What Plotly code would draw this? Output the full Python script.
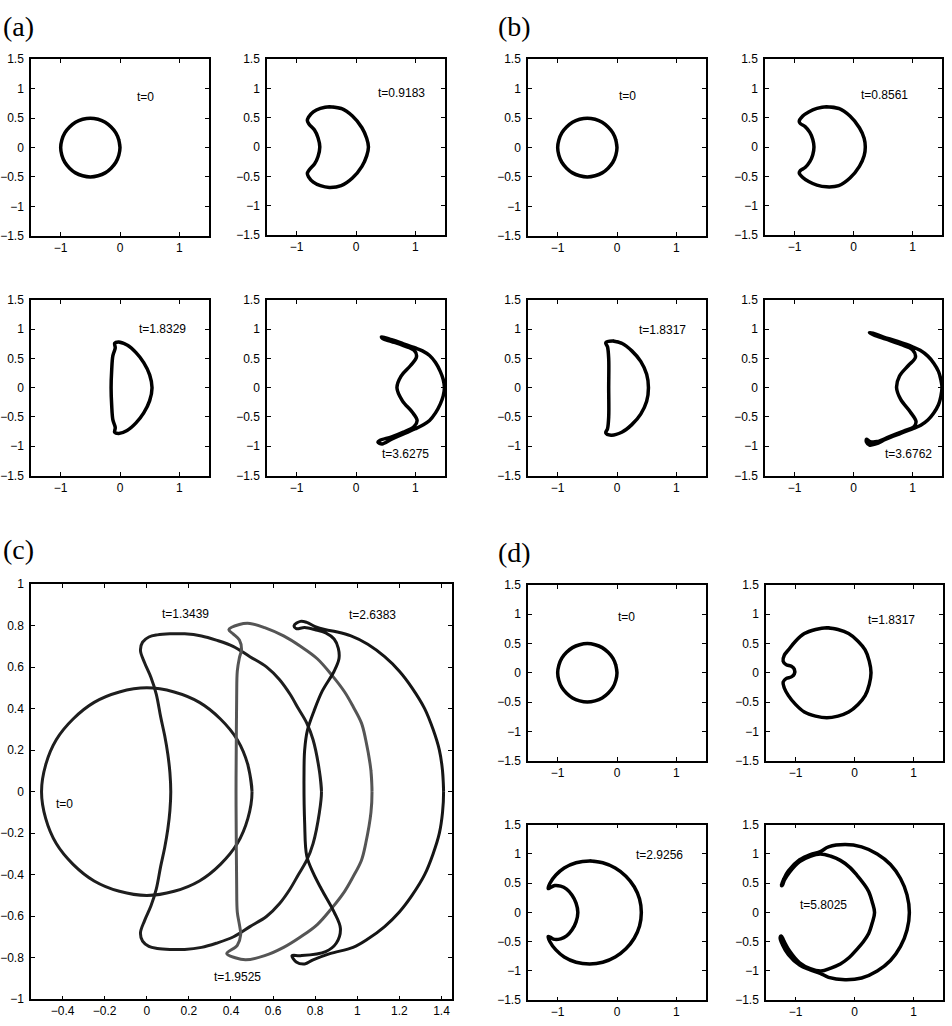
import plotly.graph_objects as go

W, H = 952, 1026

# ---- shapes (data units) ----
# t=0 circle used in (a), (b), (d)
circ_x = [0, -0.02, -0.07, -0.15, -0.25, -0.37, -0.5, -0.63, -0.75, -0.85, -0.93, -0.98, -1, -0.98, -0.93, -0.85, -0.75,
          -0.63, -0.5, -0.37, -0.25, -0.15, -0.07, -0.02, 0, -0.02]
circ_y = [0, 0.13, 0.25, 0.35, 0.43, 0.48, 0.5, 0.48, 0.43, 0.35, 0.25, 0.13, 0, -0.13, -0.25, -0.35, -0.43,
          -0.48, -0.5, -0.48, -0.43, -0.35, -0.25, -0.13, 0, 0.13]

a2_x = [-0.45, -0.25, -0.06, 0.1, 0.18, 0.21, 0.18, 0.1, -0.06, -0.25, -0.45, -0.6, -0.72, -0.8, -0.82, -0.79, -0.7, -0.64, -0.61,
        -0.64, -0.7, -0.79, -0.82, -0.8, -0.72, -0.6, -0.45, -0.25]
a2_y = [0.69, 0.66, 0.53, 0.33, 0.15, 0, -0.15, -0.33, -0.53, -0.66, -0.69, -0.66, -0.6, -0.51, -0.45, -0.39, -0.29, -0.16, 0,
        0.16, 0.29, 0.39, 0.45, 0.51, 0.6, 0.66, 0.69, 0.66]

a3_x = [-0.02, 0.12, 0.27, 0.4, 0.5, 0.54, 0.5, 0.4, 0.27, 0.12, -0.02, -0.09, -0.08, -0.12, -0.14, -0.15, -0.14, -0.12, -0.08, -0.09,
        -0.02, 0.12]
a3_y = [0.78, 0.73, 0.6, 0.43, 0.22, 0, -0.22, -0.43, -0.6, -0.73, -0.78, -0.76, -0.68, -0.55, -0.3, 0, 0.3, 0.55, 0.68, 0.76,
        0.78, 0.73]

a4_x = [0.43, 0.6, 0.8, 1.0, 1.12, 1.24, 1.34, 1.42, 1.47, 1.49, 1.47, 1.42, 1.34, 1.24, 1.12, 1.0, 0.8, 0.6, 0.44, 0.37, 0.4,
        0.6, 0.8, 0.98, 1.03, 0.95, 0.78, 0.69, 0.76, 0.92, 1.02, 0.98, 0.8, 0.6, 0.45, 0.43]
a4_y = [0.87, 0.82, 0.75, 0.68, 0.63, 0.55, 0.43, 0.28, 0.14, 0, -0.14, -0.28, -0.43, -0.56, -0.64, -0.7, -0.79, -0.88, -0.96,
        -0.93, -0.9, -0.84, -0.76, -0.66, -0.56, -0.42, -0.22, 0, 0.2, 0.38, 0.53, 0.64, 0.72, 0.79, 0.84, 0.87]

b2_x = [-0.46, -0.25, -0.06, 0.1, 0.18, 0.2, 0.18, 0.1, -0.06, -0.25, -0.46, -0.62, -0.76, -0.86, -0.92, -0.9, -0.82, -0.74,
        -0.69, -0.67, -0.69, -0.74, -0.82, -0.9, -0.92, -0.86, -0.76, -0.62, -0.46, -0.25]
b2_y = [0.69, 0.66, 0.53, 0.33, 0.15, 0, -0.15, -0.33, -0.53, -0.66, -0.68, -0.65, -0.59, -0.52, -0.44, -0.4, -0.35, -0.25,
        -0.13, 0, 0.13, 0.25, 0.35, 0.4, 0.44, 0.53, 0.6, 0.66, 0.69, 0.66]

b3_x = [-0.07, 0.08, 0.25, 0.4, 0.5, 0.53, 0.5, 0.4, 0.25, 0.08, -0.1, -0.19, -0.16, -0.14, -0.14, -0.14, -0.16, -0.19, -0.07, 0.08]
b3_y = [0.8, 0.76, 0.63, 0.45, 0.23, 0, -0.23, -0.45, -0.63, -0.76, -0.81, -0.77, -0.7, -0.5, 0, 0.5, 0.7, 0.77, 0.8, 0.76]

b4_x = [0.27, 0.33, 0.5, 0.75, 1.0, 1.13, 1.26, 1.36, 1.44, 1.48, 1.5, 1.48, 1.44, 1.36, 1.26, 1.14, 1.03, 0.8, 0.55, 0.38,
        0.27, 0.22, 0.22, 0.28, 0.4, 0.6, 0.85, 1.02, 1.06, 0.96, 0.8, 0.73, 0.78, 0.93, 1.05, 1.0, 0.8, 0.55, 0.35, 0.27]
b4_y = [0.94, 0.93, 0.87, 0.79, 0.7, 0.64, 0.54, 0.42, 0.28, 0.14, 0, -0.15, -0.29, -0.43, -0.55, -0.64, -0.69, -0.78, -0.88,
        -0.96, -0.98, -0.93, -0.88, -0.92, -0.92, -0.84, -0.74, -0.67, -0.58, -0.41, -0.2, 0, 0.2, 0.38, 0.52, 0.65, 0.74, 0.83,
        0.9, 0.94]

d2_x = [-0.47, -0.28, -0.1, 0.06, 0.18, 0.25, 0.28, 0.25, 0.18, 0.06, -0.1, -0.28, -0.47, -0.66, -0.85, -1.0, -1.12, -1.19,
        -1.21, -1.16, -1.07, -1.02, -1.02, -1.07, -1.16, -1.21, -1.19, -1.12, -1.0, -0.85, -0.66, -0.47, -0.28]
d2_y = [0.77, 0.74, 0.67, 0.54, 0.39, 0.2, 0, -0.2, -0.39, -0.54, -0.67, -0.74, -0.77, -0.74, -0.67, -0.54, -0.39, -0.26,
        -0.16, -0.1, -0.07, -0.02, 0.06, 0.11, 0.14, 0.2, 0.3, 0.39, 0.54, 0.67, 0.74, 0.77, 0.74]

d3_x = [-0.46, -0.24, -0.03, 0.15, 0.29, 0.38, 0.41, 0.38, 0.29, 0.15, -0.03, -0.24, -0.46, -0.69, -0.89, -1.03, -1.13, -1.16,
        -1.13, -1.05, -0.95, -0.85, -0.76, -0.69, -0.66, -0.69, -0.76, -0.85, -0.95, -1.05, -1.13, -1.16, -1.13, -1.03, -0.89,
        -0.69, -0.46, -0.24]
d3_y = [0.88, 0.85, 0.76, 0.62, 0.44, 0.23, 0, -0.23, -0.44, -0.62, -0.76, -0.85, -0.88, -0.85, -0.76, -0.64, -0.5, -0.41,
        -0.42, -0.46, -0.45, -0.4, -0.3, -0.16, 0, 0.16, 0.3, 0.4, 0.45, 0.46, 0.42, 0.41, 0.5, 0.64, 0.76, 0.85, 0.88, 0.85]

d4_x = [-1.24, -1.2, -1.12, -0.93, -0.75, -0.58, -0.44, -0.16, 0.12, 0.385, 0.61, 0.78, 0.89, 0.93, 0.89, 0.78, 0.61, 0.385,
        0.12, -0.16, -0.44, -0.58, -0.75, -0.93, -1.12, -1.22, -1.26, -1.24, -1.2, -1.1, -0.93, -0.75, -0.57, -0.4, -0.24, -0.09,
        0.04, 0.15, 0.24, 0.3, 0.34, 0.3, 0.24, 0.15, 0.04, -0.09, -0.24, -0.4, -0.58, -0.75, -0.93, -1.1, -1.19, -1.22, -1.24, -1.2]
d4_y = [0.46, 0.57, 0.71, 0.9, 0.99, 1.04, 1.12, 1.16, 1.12, 1.0, 0.82, 0.58, 0.3, 0, -0.3, -0.58, -0.82, -1.0,
        -1.12, -1.15, -1.11, -1.04, -0.98, -0.9, -0.72, -0.55, -0.43, -0.4, -0.48, -0.66, -0.86, -0.96, -1.0, -0.95, -0.88, -0.77,
        -0.63, -0.5, -0.36, -0.18, 0, 0.18, 0.36, 0.5, 0.64, 0.78, 0.89, 0.96, 1.0, 0.96, 0.87, 0.69, 0.55, 0.47, 0.46, 0.57]

# panel (c)
c0_x = [0.5, 0.48, 0.43, 0.35, 0.25, 0.13, 0, -0.13, -0.25, -0.35, -0.43, -0.48, -0.5, -0.48, -0.43, -0.35, -0.25, -0.13, 0,
        0.13, 0.25, 0.35, 0.43, 0.48, 0.5, 0.48]
c0_y = [0, 0.13, 0.25, 0.35, 0.43, 0.48, 0.5, 0.48, 0.43, 0.35, 0.25, 0.13, 0, -0.13, -0.25, -0.35, -0.43, -0.48, -0.5,
        -0.48, -0.43, -0.35, -0.25, -0.13, 0, 0.13]

c1_x = [0.83, 0.82, 0.79, 0.76, 0.72, 0.68, 0.63, 0.57, 0.49, 0.41, 0.33, 0.26, 0.18, 0.11, 0.05, 0.01, -0.02, -0.03, -0.01,
        0.02, 0.045, 0.066, 0.085, 0.1, 0.11, 0.114, 0.11, 0.1, 0.085, 0.066, 0.045, 0.02, -0.01, -0.03, -0.02, 0.01, 0.05, 0.11,
        0.18, 0.26, 0.33, 0.41, 0.49, 0.57, 0.63, 0.68, 0.72, 0.76, 0.79, 0.82, 0.83, 0.82]
c1_y = [0, 0.1, 0.25, 0.33, 0.4, 0.47, 0.54, 0.6, 0.65, 0.7, 0.73, 0.75, 0.76, 0.76, 0.755, 0.745, 0.72, 0.68, 0.62,
        0.55, 0.47, 0.36, 0.27, 0.18, 0.09, 0, -0.09, -0.18, -0.27, -0.36, -0.47, -0.55, -0.62, -0.68, -0.72, -0.745, -0.755, -0.76,
        -0.76, -0.75, -0.73, -0.7, -0.65, -0.6, -0.54, -0.47, -0.4, -0.33, -0.25, -0.1, 0, 0.1]

c2_x = [1.07, 1.065, 1.04, 1.02, 0.98, 0.94, 0.88, 0.81, 0.73, 0.65, 0.56, 0.49, 0.44, 0.39, 0.41, 0.44, 0.45, 0.44, 0.43,
        0.427, 0.425, 0.424, 0.425, 0.427, 0.43, 0.44, 0.446, 0.43, 0.38, 0.42, 0.47, 0.56, 0.65, 0.73, 0.81, 0.88, 0.94, 0.98,
        1.02, 1.04, 1.065, 1.07, 1.065]
c2_y = [0, 0.1, 0.25, 0.33, 0.41, 0.48, 0.56, 0.64, 0.7, 0.75, 0.79, 0.81, 0.805, 0.78, 0.76, 0.73, 0.685, 0.645, 0.58,
        0.45, 0.2, 0, -0.2, -0.45, -0.58, -0.64, -0.69, -0.74, -0.78, -0.8, -0.81, -0.79, -0.75, -0.7, -0.64, -0.56, -0.48, -0.41,
        -0.33, -0.25, -0.1, 0, 0.1]

c3_x = [1.41, 1.405, 1.39, 1.36, 1.32, 1.26, 1.2, 1.13, 1.05, 0.97, 0.9, 0.85, 0.8, 0.76, 0.73, 0.7, 0.71, 0.75, 0.8, 0.85,
        0.89, 0.91, 0.913, 0.89, 0.834, 0.795, 0.763, 0.75, 0.747, 0.75, 0.76, 0.79, 0.83, 0.89, 0.92, 0.9, 0.85, 0.73, 0.69, 0.71,
        0.75, 0.79, 0.87, 0.98, 1.05, 1.13, 1.2, 1.26, 1.32, 1.36, 1.39, 1.405, 1.41, 1.405]
c3_y = [0, 0.1, 0.2, 0.3, 0.4, 0.5, 0.58, 0.65, 0.71, 0.75, 0.77, 0.78, 0.795, 0.815, 0.82, 0.8, 0.785, 0.79, 0.78, 0.765,
        0.735, 0.69, 0.64, 0.58, 0.485, 0.39, 0.295, 0.2, 0.09, -0.15, -0.31, -0.39, -0.47, -0.58, -0.66, -0.73, -0.77, -0.79, -0.79,
        -0.82, -0.83, -0.81, -0.78, -0.75, -0.71, -0.65, -0.58, -0.5, -0.4, -0.3, -0.2, -0.1, 0, 0.1]

sq_ticks_x = [-1, 0, 1]
sq_ticks_y = [-1.5, -1, -0.5, 0, 0.5, 1, 1.5]
c_ticks_x = [-0.4, -0.2, 0, 0.2, 0.4, 0.6, 0.8, 1, 1.2, 1.4]
c_ticks_y = [-1, -0.8, -0.6, -0.4, -0.2, 0, 0.2, 0.4, 0.6, 0.8, 1]

# (x, y, label, label x, label y, box px l,t,r,b)
panels = [
    (circ_x, circ_y, "t=0", 0.43, 0.86, (31, 53, 209, 232)),
    (a2_x, a2_y, "t=0.9183", 0.76, 0.92, (267, 53, 445, 231)),
    (a3_x, a3_y, "t=1.8329", 0.71, 1.0, (31, 297, 209, 475)),
    (a4_x, a4_y, "t=3.6275", 0.84, -1.14, (267, 297, 445, 475)),
    (circ_x, circ_y, "t=0", 0.18, 0.87, (528, 53, 706, 232)),
    (b2_x, b2_y, "t=0.8561", 0.53, 0.89, (765, 53, 942, 231)),
    (b3_x, b3_y, "t=1.8317", 0.76, 0.99, (528, 297, 706, 475)),
    (b4_x, b4_y, "t=3.6762", 0.93, -1.14, (765, 297, 942, 475)),
    (circ_x, circ_y, "t=0", 0.16, 0.95, (528, 586, 706, 764)),
    (d2_x, d2_y, "t=1.8317", 0.63, 0.9, (766, 586, 943, 764)),
    (d3_x, d3_y, "t=2.9256", 0.71, 0.99, (528, 829, 706, 1007)),
    (d4_x, d4_y, "t=5.8025", -0.53, 0.13, (766, 829, 943, 1007)),
]

fig = go.Figure()
axis_common = dict(showline=True, mirror="ticks", linecolor="black", linewidth=1.5, ticks="inside", ticklen=4,
                   tickcolor="black", tickwidth=1, showgrid=False, zeroline=False, fixedrange=True,
                   tickfont=dict(family="Liberation Sans, Arial", size=12, color="black"))
layout = {}
annotations = []
txt_font = dict(family="Liberation Sans, Arial", size=12, color="black")


def add_axes(i, box, xr, yr, xt, yt):
    l, t, r, b = box
    sfx = "" if i == 1 else str(i)
    layout["xaxis" + sfx] = dict(domain=[l / W, r / W], range=xr, anchor="y" + sfx, tickvals=xt, **axis_common)
    layout["yaxis" + sfx] = dict(domain=[1 - b / H, 1 - t / H], range=yr, anchor="x" + sfx, tickvals=yt,
                                 ticklabelstandoff=3, **axis_common)
    return "x" + sfx, "y" + sfx


for i, (cx, cy, lab, lx, ly, box) in enumerate(panels, start=1):
    xr, yr = add_axes(i, box, [-1.5, 1.5], [-1.5, 1.5], sq_ticks_x, sq_ticks_y)
    fig.add_trace(go.Scatter(x=cx, y=cy, mode="lines", line=dict(color="black", width=3.5, shape="spline", smoothing=1),
                             xaxis=xr, yaxis=yr, showlegend=False, hoverinfo="skip"))
    annotations.append(dict(x=lx, y=ly, xref=xr, yref=yr, text=lab, showarrow=False, font=txt_font))

# panel (c)
ci = len(panels) + 1
xr, yr = add_axes(ci, (31, 585, 452, 1006), [-0.55, 1.45], [-1, 1], c_ticks_x, c_ticks_y)
for cx, cy, col in [(c0_x, c0_y, "#1e1e1e"), (c1_x, c1_y, "#1e1e1e"), (c2_x, c2_y, "#555555"), (c3_x, c3_y, "#151515")]:
    fig.add_trace(go.Scatter(x=cx, y=cy, mode="lines", line=dict(color=col, width=3, shape="spline", smoothing=1),
                             xaxis=xr, yaxis=yr, showlegend=False, hoverinfo="skip"))
for lab, lx, ly in [("t=1.3439", 0.185, 0.855), ("t=2.6383", 1.07, 0.85), ("t=0", -0.39, -0.06), ("t=1.9525", 0.43, -0.895)]:
    annotations.append(dict(x=lx, y=ly, xref=xr, yref=yr, text=lab, showarrow=False, font=txt_font))

# panel letters
for lab, px, py in [("(a)", 1, 20), ("(b)", 496, 20), ("(c)", 1, 550), ("(d)", 496, 553)]:
    annotations.append(dict(x=px / W, y=1 - py / H, xref="paper", yref="paper", text=lab, showarrow=False,
                            xanchor="left", yanchor="middle", font=dict(family="Liberation Serif, DejaVu Serif", size=28, color="black")))

fig.update_layout(**layout)
fig.update_layout(width=W, height=H, margin=dict(l=0, r=0, t=0, b=0), plot_bgcolor="white", paper_bgcolor="white",
                  annotations=annotations, showlegend=False)
fig.write_html("out.html", config={"displayModeBar": False},
               post_script="document.body.style.margin='0';document.body.style.overflow='hidden';")
